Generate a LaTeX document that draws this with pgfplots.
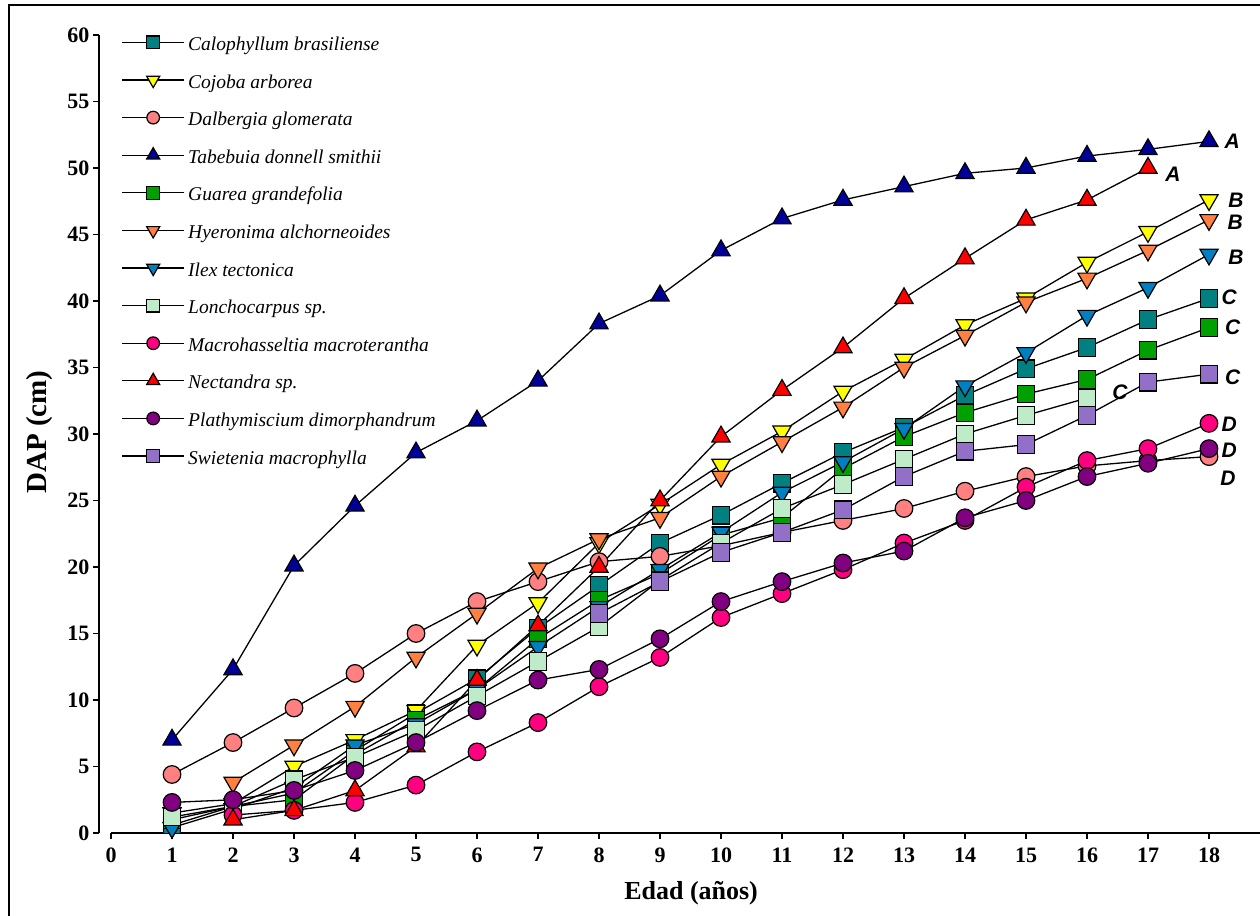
\documentclass[border=0pt]{standalone}
\usepackage{fontspec}
\setmainfont{Liberation Serif}
\newfontfamily\letterfont{Liberation Sans}
\usepackage{pgfplots}
\pgfplotsset{compat=1.18}

\definecolor{cCalo}{HTML}{008080}
\definecolor{cCojo}{HTML}{FFFF00}
\definecolor{cDalb}{HTML}{FF8080}
\definecolor{cTabe}{HTML}{000099}
\definecolor{cGuar}{HTML}{00A000}
\definecolor{cHyer}{HTML}{FF8040}
\definecolor{cIlex}{HTML}{0080C0}
\definecolor{cLonc}{HTML}{BEEBC8}
\definecolor{cMacr}{HTML}{FF0080}
\definecolor{cNect}{HTML}{FF0000}
\definecolor{cPlat}{HTML}{800080}
\definecolor{cSwie}{HTML}{9370C8}

\newcommand\tickfont{\fontsize{22}{26}\selectfont\bfseries}
\newcommand\titlefont{\fontsize{26}{30}\selectfont\bfseries}
\newcommand\ytitlefont{\fontsize{29}{33}\selectfont\bfseries}
\newcommand\legfont{\fontsize{19.5}{24}\selectfont\itshape}
\newcommand\grpfont{\letterfont\fontsize{21}{24}\selectfont\bfseries\itshape}

\tikzset{mk/.style={solid, fill=#1, draw=black, line width=1.2pt}}
\pgfplotsset{
  sq/.style={black, solid, line width=1.3pt, mark=square*, mark size=8.8pt, mark options={mk=#1}},
  tu/.style={black, solid, line width=1.3pt, mark=triangle*, mark size=10.5pt, mark options={mk=#1}},
  td/.style={black, solid, line width=1.3pt, mark=triangle*, mark size=10.5pt, mark options={mk=#1, rotate=180}},
  ci/.style={black, solid, line width=1.3pt, mark=*, mark size=8.8pt, mark options={mk=#1}},
}

\begin{document}
\begin{tikzpicture}[x=1pt,y=1pt]
\useasboundingbox (0,0) rectangle (1260,915);
% outer frame
\draw[line width=2.5pt] (9,-10) -- (9,910) -- (1275,910);
\begin{axis}[
  at={(99pt,82pt)}, anchor=south west,
  scale only axis, width=1161pt, height=798pt,
  xmin=-0.197, xmax=18.836, ymin=0, ymax=60,
  clip=false,
  axis x line*=bottom, axis y line*=left,
  x axis line style={draw=none},
  y axis line style={line width=1.8pt},
  xtick={0,...,18}, ytick={0,5,...,60},
  tick align=outside, major tick length=6pt,
  tick style={line width=1.5pt, black},
  /pgf/number format/assume math mode=true,
  ticklabel style={font=\tickfont},
  xticklabel style={yshift=-5pt},
  xlabel={Edad (años)}, ylabel={DAP (cm)},
  xlabel style={font=\titlefont, at={(axis description cs:0.51,-0.0752)}, anchor=center},
  ylabel style={font=\ytitlefont, at={(axis description cs:-0.0508,0.5025)}, anchor=center, rotate=0},
  legend image code/.code={
    \path[draw=none, fill=none] (0pt,-5pt) rectangle (62pt,15pt);
    \draw[overlay, mark repeat=2, mark phase=2, #1, /tikz/every mark/.append style={scale=0.72}]
      plot coordinates {(0pt,3pt) (31pt,3pt) (62pt,3pt)};},
  legend style={at={(axis description cs:0.0198,1.006)}, anchor=north west,
    draw=none, fill=none, inner sep=0pt, column sep=4pt, row sep=12.6pt,
    font=\legfont, nodes={inner sep=0pt, text height=15pt, text depth=5pt}},
  legend cell align=left,
]
% Calophyllum brasiliense
\addplot[sq=cCalo] coordinates {(1,0.6) (2,2.0) (3,3.0) (4,6.2) (5,9.0) (6,11.6) (7,15.4) (8,18.6) (9,21.8) (10,23.9) (11,26.3) (12,28.6) (13,30.5) (14,32.9) (15,34.9) (16,36.5) (17,38.6) (18,40.2)};
\addlegendentry{Calophyllum brasiliense}
% Cojoba arborea
\addplot[td=cCojo] coordinates {(1,1.5) (2,2.2) (3,5.0) (4,7.0) (5,9.2) (6,14.1) (7,17.3) (8,21.8) (9,24.7) (10,27.7) (11,30.2) (12,33.2) (13,35.6) (14,38.2) (15,40.2) (16,42.9) (17,45.2) (18,47.6)};
\addlegendentry{Cojoba arborea}
% Dalbergia glomerata
\addplot[ci=cDalb] coordinates {(1,4.4) (2,6.8) (3,9.4) (4,12.0) (5,15.0) (6,17.4) (7,18.9) (8,20.4) (9,20.8) (10,21.6) (11,22.6) (12,23.5) (13,24.4) (14,25.7) (15,26.8) (16,27.6) (17,28.0) (18,28.3)};
\addlegendentry{Dalbergia glomerata}
% Tabebuia donnell smithii
\addplot[tu=cTabe] coordinates {(1,7.0) (2,12.3) (3,20.1) (4,24.6) (5,28.6) (6,31.0) (7,34.0) (8,38.3) (9,40.4) (10,43.8) (11,46.2) (12,47.6) (13,48.6) (14,49.6) (15,50.0) (16,50.9) (17,51.4) (18,52.0)};
\addlegendentry{Tabebuia donnell smithii}
% Guarea grandefolia
\addplot[sq=cGuar] coordinates {(1,1.0) (2,2.0) (3,2.5) (4,5.9) (5,8.5) (6,10.8) (7,14.6) (8,17.5) (9,19.5) (10,22.4) (11,23.7) (12,27.4) (13,29.8) (14,31.6) (15,33.0) (16,34.1) (17,36.3) (18,38.0)};
\addlegendentry{Guarea grandefolia}
% Hyeronima alchorneoides
\addplot[td=cHyer] coordinates {(2,3.8) (3,6.6) (4,9.5) (5,13.2) (6,16.5) (7,19.9) (8,22.1) (9,23.7) (10,26.8) (11,29.4) (12,32.0) (13,35.0) (14,37.4) (15,39.9) (16,41.7) (17,43.8) (18,46.1)};
\addlegendentry{Hyeronima alchorneoides}
% Ilex tectonica
\addplot[td=cIlex] coordinates {(1,0.4) (2,1.8) (3,3.4) (4,6.6) (5,8.2) (6,10.8) (7,14.0) (8,17.0) (9,19.8) (10,22.6) (11,25.6) (12,27.9) (13,30.4) (14,33.6) (15,36.1) (16,38.9) (17,41.0) (18,43.5)};
\addlegendentry{Ilex tectonica}
% Lonchocarpus sp.
\addplot[sq=cLonc] coordinates {(1,1.2) (2,2.0) (3,4.0) (4,5.7) (5,7.7) (6,10.3) (7,12.9) (8,15.5) (9,19.0) (10,21.8) (11,24.4) (12,26.2) (13,28.1) (14,30.0) (15,31.4) (16,32.7)};
\addlegendentry{Lonchocarpus sp.}
% Macrohasseltia macroterantha
\addplot[ci=cMacr] coordinates {(2,1.35) (3,1.7) (4,2.3) (5,3.6) (6,6.1) (7,8.3) (8,11.0) (9,13.2) (10,16.2) (11,18.0) (12,19.8) (13,21.8) (14,23.5) (15,26.0) (16,28.0) (17,28.9) (18,30.8)};
\addlegendentry{Macrohasseltia macroterantha}
% Nectandra sp.
\addplot[tu=cNect] coordinates {(2,1.0) (3,1.7) (4,3.2) (5,6.5) (6,11.5) (7,15.6) (8,20.0) (9,25.0) (10,29.8) (11,33.3) (12,36.5) (13,40.2) (14,43.2) (15,46.1) (16,47.6) (17,50.0)};
\addlegendentry{Nectandra sp.}
% Plathymiscium dimorphandrum
\addplot[ci=cPlat] coordinates {(1,2.3) (2,2.5) (3,3.2) (4,4.7) (5,6.8) (6,9.2) (7,11.5) (8,12.3) (9,14.6) (10,17.4) (11,18.9) (12,20.3) (13,21.2) (14,23.7) (15,25.0) (16,26.8) (17,27.8) (18,28.9)};
\addlegendentry{Plathymiscium dimorphandrum}
% Swietenia macrophylla
\addplot[sq=cSwie] coordinates {(8,16.5) (9,18.9) (10,21.1) (11,22.6) (12,24.3) (13,26.8) (14,28.7) (15,29.2) (16,31.4) (17,33.9) (18,34.5)};
\addlegendentry{Swietenia macrophylla}

% x axis line, starting at the origin
\draw[line width=1.8pt] (axis cs:0,0) -- (axis cs:18.836,0);

% significance groups
\node[font=\grpfont] at (axis cs:18.38,52.0) {A};
\node[font=\grpfont] at (axis cs:17.41,49.5) {A};
\node[font=\grpfont] at (axis cs:18.44,47.6) {B};
\node[font=\grpfont] at (axis cs:18.43,45.9) {B};
\node[font=\grpfont] at (axis cs:18.44,43.3) {B};
\node[font=\grpfont] at (axis cs:18.33,40.3) {C};
\node[font=\grpfont] at (axis cs:18.39,38.0) {C};
\node[font=\grpfont] at (axis cs:18.39,34.3) {C};
\node[font=\grpfont] at (axis cs:16.54,33.1) {C};
\node[font=\grpfont] at (axis cs:18.33,30.7) {D};
\node[font=\grpfont] at (axis cs:18.33,28.8) {D};
\node[font=\grpfont] at (axis cs:18.31,26.7) {D};
\end{axis}
\end{tikzpicture}
\end{document}
